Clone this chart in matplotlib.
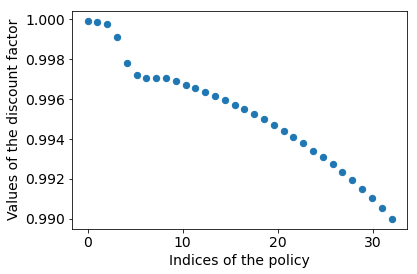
import numpy as np
import matplotlib
matplotlib.use("Agg")
import matplotlib.pyplot as plt

# policy indices (32 policies spread over 0..32 on the axis)
indices = np.linspace(0, 32, 32)
discount = [0.99994, 0.99987, 0.99979, 0.99914, 0.99779, 0.99719, 0.99704, 0.99704,
            0.99704, 0.99689, 0.99669, 0.99654, 0.99634, 0.99614, 0.99594, 0.99569,
            0.99549, 0.99524, 0.99499, 0.99469, 0.99439, 0.99409, 0.99379, 0.99342,
            0.99309, 0.99274, 0.99234, 0.99194, 0.99149, 0.99104, 0.99054, 0.99000]


def plot_data(x, y):
    plt.rc('font', size=14)
    fig = plt.figure(figsize=(417 / 72, 274 / 72), dpi=72)
    ax = fig.add_axes([0.1734, 0.1653, 0.8019, 0.7957])
    ax.scatter(x, y, s=40, color='#1f77b4')
    ax.set_xlabel('Indices of the policy')
    ax.set_ylabel('Values of the discount factor')
    ax.set_xticks([0, 10, 20, 30])
    ax.set_yticks([0.990, 0.992, 0.994, 0.996, 0.998, 1.000])
    ax.set_yticklabels(['0.990', '0.992', '0.994', '0.996', '0.998', '1.000'])
    fig.savefig('out.png', dpi=72)


def main():
    plot_data(indices, discount)


if __name__ == "__main__":
    main()
